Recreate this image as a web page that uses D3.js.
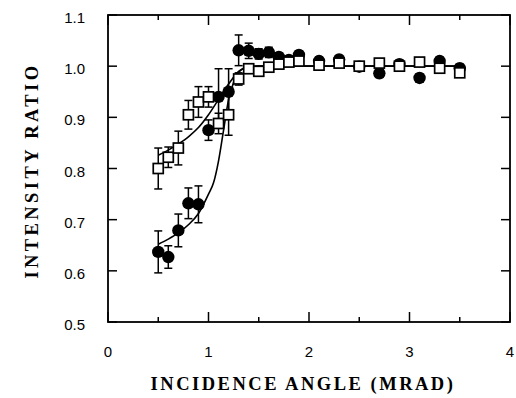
<!DOCTYPE html>
<html>
<head>
<meta charset="utf-8">
<script src="https://cdn.jsdelivr.net/npm/d3@7"></script>
<style>
  body { margin: 0; background: #fff; }
  .tick-label { font-family: "Liberation Sans", Arial, sans-serif; font-size: 15px; fill: #000; }
  .axis-title { font-family: "Liberation Serif", "Times New Roman", serif; font-weight: bold; font-size: 18.5px; letter-spacing: 2.5px; fill: #000; }
</style>
</head>
<body>
<svg id="chart" width="516" height="398"></svg>
<script>
"use strict"

// open squares: [angle, ratio, error]
let squareData = [
    [0.5, 0.800, 0.040], [0.6, 0.822, 0.020], [0.7, 0.840, 0.033], [0.8, 0.905, 0.028],
    [0.9, 0.930, 0.030], [1.0, 0.940, 0.020], [1.1, 0.888, 0.020], [1.2, 0.905, 0.040],
    [1.3, 0.975, 0.012], [1.4, 0.995, 0.008], [1.5, 0.990, 0.008], [1.6, 0.998, 0.006],
    [1.7, 1.004, 0.006], [1.8, 1.008, 0.006], [1.9, 1.010, 0.006], [2.1, 1.002, 0.006],
    [2.3, 1.006, 0.006], [2.5, 1.000, 0.006], [2.7, 1.006, 0.006], [2.9, 1.000, 0.006],
    [3.1, 1.008, 0.006], [3.3, 0.996, 0.006], [3.5, 0.987, 0.006]
];

// filled circles: [angle, ratio, error]
let circleData = [
    [0.5, 0.637, 0.041], [0.6, 0.627, 0.022], [0.7, 0.679, 0.032], [0.8, 0.732, 0.030],
    [0.9, 0.730, 0.036], [1.0, 0.875, 0.020], [1.1, 0.940, 0.055], [1.2, 0.950, 0.045],
    [1.3, 1.031, 0.030], [1.4, 1.030, 0.015], [1.5, 1.024, 0.010], [1.6, 1.027, 0.010],
    [1.7, 1.018, 0.008], [1.8, 1.012, 0.008], [1.9, 1.022, 0.008], [2.1, 1.010, 0.008],
    [2.3, 1.013, 0.008], [2.5, 0.999, 0.008], [2.7, 0.986, 0.008], [2.9, 1.004, 0.008],
    [3.1, 0.977, 0.008], [3.3, 1.010, 0.008], [3.5, 0.996, 0.008]
];

// fitted curves
let squareFit = [
    [0.5, 0.826], [0.6, 0.836], [0.7, 0.848], [0.8, 0.862], [0.9, 0.880], [1.0, 0.905],
    [1.1, 0.935], [1.2, 0.965], [1.3, 0.990], [1.4, 0.999], [1.5, 1.000], [3.5, 1.000]
];
let circleFit = [
    [0.5, 0.652], [0.6, 0.662], [0.7, 0.674], [0.8, 0.690], [0.9, 0.712], [1.0, 0.750],
    [1.05, 0.772], [1.1, 0.815], [1.15, 0.875], [1.2, 0.935], [1.25, 0.968], [1.3, 0.988],
    [1.4, 0.999], [1.5, 1.000], [3.5, 1.000]
];

let xTicks = [0, 1, 2, 3, 4];
let xMinorTicks = [0.5, 1.5, 2.5, 3.5];
let yTicks = [0.5, 0.6, 0.7, 0.8, 0.9, 1.0, 1.1];

var margin = { top: 15, right: 6, bottom: 76, left: 108 },
    width = 516 - margin.left - margin.right,
    height = 398 - margin.top - margin.bottom;

var svg = d3.select("#chart")
    .append("g")
    .attr("transform", "translate(" + margin.left + "," + margin.top + ")");

var x = d3.scaleLinear().domain([0, 4]).range([0, width]);
var y = d3.scaleLinear().domain([0.5, 1.1]).range([height, 0]);

// frame
svg.append("rect")
    .attr("width", width).attr("height", height)
    .attr("fill", "none").attr("stroke", "#000").attr("stroke-width", 1.8);

// ticks, all inward
var ticks = svg.append("g").attr("stroke", "#000").attr("stroke-width", 1.5);
xTicks.concat(xMinorTicks).forEach(function (t) {
    var len = xTicks.indexOf(t) >= 0 ? 10 : 5;
    ticks.append("line").attr("x1", x(t)).attr("x2", x(t)).attr("y1", height).attr("y2", height - len);
    ticks.append("line").attr("x1", x(t)).attr("x2", x(t)).attr("y1", 0).attr("y2", len);
});
yTicks.forEach(function (t) {
    ticks.append("line").attr("x1", 0).attr("x2", 9).attr("y1", y(t)).attr("y2", y(t));
    ticks.append("line").attr("x1", width).attr("x2", width - 9).attr("y1", y(t)).attr("y2", y(t));
});

// tick labels
svg.append("g").selectAll("text")
    .data(xTicks).enter().append("text")
    .attr("class", "tick-label")
    .attr("x", function (d) { return x(d); })
    .attr("y", height + 35)
    .attr("text-anchor", "middle")
    .text(function (d) { return d; });

svg.append("g").selectAll("text")
    .data(yTicks).enter().append("text")
    .attr("class", "tick-label")
    .attr("x", -23)
    .attr("y", function (d) { return y(d) + 8; })
    .attr("text-anchor", "end")
    .text(function (d) { return d.toFixed(1); });

// axis titles
svg.append("text")
    .attr("class", "axis-title")
    .attr("x", x(2) - 6)
    .attr("y", height + 68)
    .attr("text-anchor", "middle")
    .text("INCIDENCE ANGLE (MRAD)");

svg.append("text")
    .attr("class", "axis-title")
    .style("letter-spacing", "3.4px")
    .attr("transform", "translate(" + (-70) + "," + (y(0.8) + 2) + ") rotate(-90)")
    .attr("text-anchor", "middle")
    .text("INTENSITY RATIO");

// fitted curves
var line = d3.line()
    .x(function (d) { return x(d[0]); })
    .y(function (d) { return y(d[1]); })
    .curve(d3.curveMonotoneX);

[squareFit, circleFit].forEach(function (fit) {
    svg.append("path")
        .datum(fit)
        .attr("d", line)
        .attr("fill", "none")
        .attr("stroke", "#000")
        .attr("stroke-width", 1.6);
});

// error bars
function errorBars(data) {
    var g = svg.append("g").attr("stroke", "#000").attr("stroke-width", 1.5);
    data.forEach(function (d) {
        var top = y(d[1] + d[2]), bot = y(d[1] - d[2]), cx = x(d[0]);
        g.append("line").attr("x1", cx).attr("x2", cx).attr("y1", top).attr("y2", bot);
        g.append("line").attr("x1", cx - 4).attr("x2", cx + 4).attr("y1", top).attr("y2", top);
        g.append("line").attr("x1", cx - 4).attr("x2", cx + 4).attr("y1", bot).attr("y2", bot);
    });
}
errorBars(circleData);
errorBars(squareData);

// filled circles
svg.append("g")
    .selectAll("circle")
    .data(circleData)
    .enter()
    .append("circle")
    .attr("cx", function (d) { return x(d[0]); })
    .attr("cy", function (d) { return y(d[1]); })
    .attr("r", 6.2)
    .attr("fill", "#000");

// open squares
svg.append("g")
    .selectAll("rect")
    .data(squareData)
    .enter()
    .append("rect")
    .attr("x", function (d) { return x(d[0]) - 5; })
    .attr("y", function (d) { return y(d[1]) - 5; })
    .attr("width", 10)
    .attr("height", 10)
    .attr("fill", "#fff")
    .attr("stroke", "#000")
    .attr("stroke-width", 1.7);
</script>
</body>
</html>
